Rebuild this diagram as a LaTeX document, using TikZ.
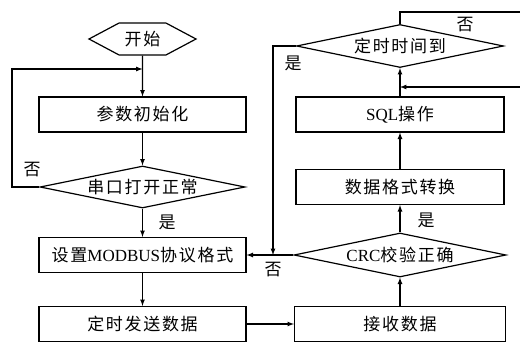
\documentclass[tikz,border=0pt]{standalone}
\usepackage{fontspec}
\setmainfont{Liberation Serif}
\newfontfamily\cjk[LetterSpace=10]{Noto Sans CJK SC}
\usetikzlibrary{shapes.geometric,shapes.symbols}

\begin{document}
\begin{tikzpicture}[x=1pt,y=-1pt,line width=1.2pt,>=latex,
    box/.style={draw,minimum width=207pt,minimum height=35pt,inner sep=0pt},
    cond/.style={draw,diamond,aspect=4.8,inner sep=0pt},
    every node/.style={font=\cjk\fontsize{17}{20}\selectfont}]
    \useasboundingbox (0,0) rectangle (520,343);

    % left column
    \node (start) [draw,signal,signal to=west and east,signal pointer angle=56,
        minimum width=107pt,minimum height=32pt,inner sep=0pt] at (142.5,39) {开始};
    \node (init) [box] at (142.5,114.5) {参数初始化};
    \node (check) [cond,minimum width=205pt,minimum height=42pt] at (142.5,187) {串口打开正常};
    \node (setmode) [box] at (142.5,255) {设置{\rmfamily MODBUS}协议格式};
    \node (send) [box] at (142.5,324) {定时发送数据};

    % right column
    \node (recv) [box,minimum width=211pt] at (400,324) {接收数据};
    \node (crc) [cond,minimum width=212pt,minimum height=44pt] at (400,255) {{\rmfamily CRC}校验正确};
    \node (convert) [box,minimum width=208pt] at (400,187) {数据格式转换};
    \node (sql) [box,minimum width=208pt] at (400,114.5) {{\rmfamily SQL}操作};
    \node (timer) [cond,minimum width=207pt,minimum height=43pt] at (400,46) {定时时间到};

    % bends and joins
    \node (loopl) [coordinate] at (12,69) {};
    \node (join) [coordinate] at (142.5,69) {};
    \node (merge) [coordinate] at (273,255) {};
    \node (topr) [coordinate] at (527,12) {};
    \node (back) [coordinate] at (400,87) {};

    \path [->]
        (start) edge (init)
        (init) edge (check)
        (check) edge (setmode)
        (setmode) edge (send)
        (send) edge (recv)
        (recv) edge (crc)
        (crc) edge (convert)
        (convert) edge (sql)
        (sql) edge (timer)
        (crc.west) edge (setmode.east)
    ;
    \draw [->] (check.west) -| (loopl) -- (join);
    \draw [->] (timer.west) -| (merge);
    \draw [->] (timer.north) |- (topr) |- (back);

    \node at (32,170) {否};
    \node at (167,222) {是};
    \node at (465,25) {否};
    \node at (293,63) {是};
    \node at (273,270) {否};
    \node at (426,220) {是};
\end{tikzpicture}
\end{document}
